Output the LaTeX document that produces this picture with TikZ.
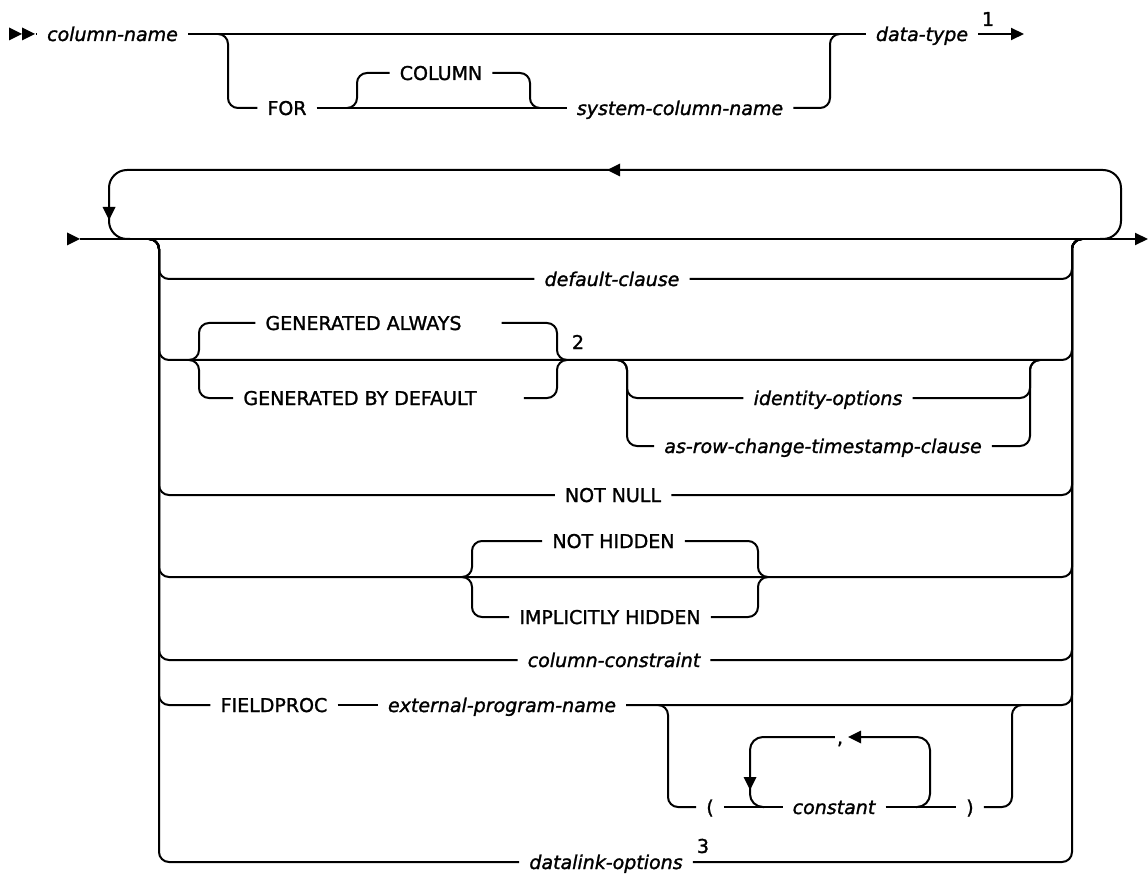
\documentclass[tikz,border=0pt]{standalone}
\usepackage{fontspec}
\setmainfont{DejaVu Sans}[FakeBold=1.4]
\usetikzlibrary{arrows.meta}
\begin{document}
\begin{tikzpicture}[x=1pt,y=-1pt,
  rail/.style={line width=2pt, rounded corners=10pt},
  loop/.style={line width=2pt, rounded corners=18pt},
  lbl/.style={inner xsep=10pt, inner ysep=0pt, text height=14pt, text depth=0pt, font=\fontsize{19}{22}\selectfont},
  kw/.style={lbl},
  var/.style={lbl, font=\fontsize{19}{22}\selectfont\itshape},
  supn/.style={inner sep=0pt, font=\fontsize{19}{21}\selectfont},
  tip/.style={-{Triangle[length=13pt,width=12pt]}}
]
\useasboundingbox (0,0) rectangle (1148,874);

% ---------- first line ----------
\node[var] (cn)  at (112.5,34) {column-name};
\node[var] (dt)  at (922,34)   {data-type};
\node[supn] (s1) at (988,19)   {1};
\node[kw]  (for) at (287,108)  {FOR};
\node[kw]  (col) at (441,73)   {COLUMN};
\node[var] (scn) at (680,108)  {system-column-name};
\coordinate (st) at (36,34);
\coordinate (fin) at (1024,34);

\fill (9,27.5) -- (22,34) -- (9,40.5) -- cycle;
\fill (22,27.5) -- (35,34) -- (22,40.5) -- cycle;
\draw[rail] (st) -- (cn.west);
\draw[rail] (cn.east) -- (dt.west);
\draw[rail] (218,34) -- (228,34) -- (228,108) -- (for.west);
\draw[rail] (for.east) -- (scn.west);
\draw[rail] (347,108) -- (357,108) -- (357,73) -- (col.west);
\draw[rail] (col.east) -- (530,73) -- (530,108) -- (540,108);
\draw[rail] (scn.east) -- (830,108) -- (830,34) -- (840,34);
\draw[rail,tip] (dt.east) -- (fin);

% ---------- second part ----------
\coordinate (in) at (80,239);
\coordinate (out) at (1148,239);
\fill (67,232.5) -- (80,239) -- (67,245.5) -- cycle;
\draw[rail,tip] (in) -- (out);
% repeat loop
\draw[loop] (130,239) -- (109,239) -- (109,170) -- (1121,170) -- (1121,239) -- (1100,239);
\fill (102.5,207) -- (115.5,207) -- (109,220) -- cycle;
\fill (607,170) -- (620,163.5) -- (620,176.5) -- cycle;

% labels
\node[var] (dc)  at (612,279)   {default-clause};
\node[kw]  (ga)  at (363.5,323) {GENERATED ALWAYS};
\node[kw]  (gd)  at (360,398)   {GENERATED BY DEFAULT};
\node[supn] (s2) at (578,342)   {2};
\node[var] (io)  at (828,398)   {identity-options};
\node[var] (ar)  at (823,446)   {as-row-change-timestamp-clause};
\node[kw]  (nn)  at (613,495)   {NOT NULL};
\node[kw]  (nh)  at (613.5,541) {NOT HIDDEN};
\node[kw]  (ih)  at (610,617)   {IMPLICITLY HIDDEN};
\node[var] (cc)  at (614,660)   {column-constraint};
\node[kw]  (fp)  at (274,705)   {FIELDPROC};
\node[var] (epn) at (502,705)   {external-program-name};
\node[kw]  (lp)  at (710,807)   {(};
\node[var] (cst) at (834,807)   {constant};
\node[kw]  (rp)  at (970,807)   {)};
\node[kw, inner xsep=2pt] (cm) at (840,737) {,};
\node[var] (dl)  at (606,862)   {datalink-options};
\node[supn] (s3) at (703,846)   {3};

% default-clause
\draw[rail] (149,239) -- (159,239) -- (159,279) -- (dc.west);
\draw[rail] (dc.east) -- (1072,279) -- (1072,239) -- (1082,239);
% generated row
\draw[rail] (149,239) -- (159,239) -- (159,360) -- (1072,360) -- (1072,239) -- (1082,239);
\draw[rail] (189,360) -- (199,360) -- (199,323) -- (ga.west);
\draw[rail] (189,360) -- (199,360) -- (199,398) -- (gd.west);
\draw[rail] ([xshift=30pt]ga.east) -- (557,323) -- (557,360) -- (567,360);
\draw[rail] ([xshift=37pt]gd.east) -- (557,398) -- (557,360) -- (567,360);
\draw[rail] (617,360) -- (627,360) -- (627,398) -- (io.west);
\draw[rail] (617,360) -- (627,360) -- (627,446) -- (ar.west);
\draw[rail] (io.east) -- (1030,398) -- (1030,360) -- (1040,360);
\draw[rail] (ar.east) -- (1030,446) -- (1030,360) -- (1040,360);
% not null
\draw[rail] (149,239) -- (159,239) -- (159,495) -- (nn.west);
\draw[rail] (nn.east) -- (1072,495) -- (1072,239) -- (1082,239);
% hidden
\draw[rail] (149,239) -- (159,239) -- (159,577) -- (1072,577) -- (1072,239) -- (1082,239);
\draw[rail] (462,577) -- (472,577) -- (472,541) -- (nh.west);
\draw[rail] (462,577) -- (472,577) -- (472,617) -- (ih.west);
\draw[rail] (nh.east) -- (758,541) -- (758,577) -- (768,577);
\draw[rail] (ih.east) -- (758,617) -- (758,577) -- (768,577);
% column-constraint
\draw[rail] (149,239) -- (159,239) -- (159,660) -- (cc.west);
\draw[rail] (cc.east) -- (1072,660) -- (1072,239) -- (1082,239);
% fieldproc
\draw[rail] (149,239) -- (159,239) -- (159,705) -- (fp.west);
\draw[rail] (fp.east) -- (epn.west);
\draw[rail] (epn.east) -- (1072,705) -- (1072,239) -- (1082,239);
\draw[rail] (658,705) -- (668,705) -- (668,807) -- (lp.west);
\draw[rail] (lp.east) -- (cst.west);
\draw[rail] (cst.east) -- (rp.west);
\draw[rail] (rp.east) -- (1012,807) -- (1012,705) -- (1022,705);
\draw[rail, rounded corners=13pt] (916,807) -- (930,807) -- (930,737) -- (861,737);
\fill (848,737) -- (861,730.5) -- (861,743.5) -- cycle;
\draw[rail, rounded corners=13pt] (cm.west) -- (750,737) -- (750,807) -- (764,807);
\fill (743.5,777) -- (756.5,777) -- (750,790) -- cycle;
% datalink
\draw[rail] (149,239) -- (159,239) -- (159,862) -- (dl.west);
\draw[rail] (dl.east) -- (1072,862) -- (1072,239) -- (1082,239);
\end{tikzpicture}
\end{document}
